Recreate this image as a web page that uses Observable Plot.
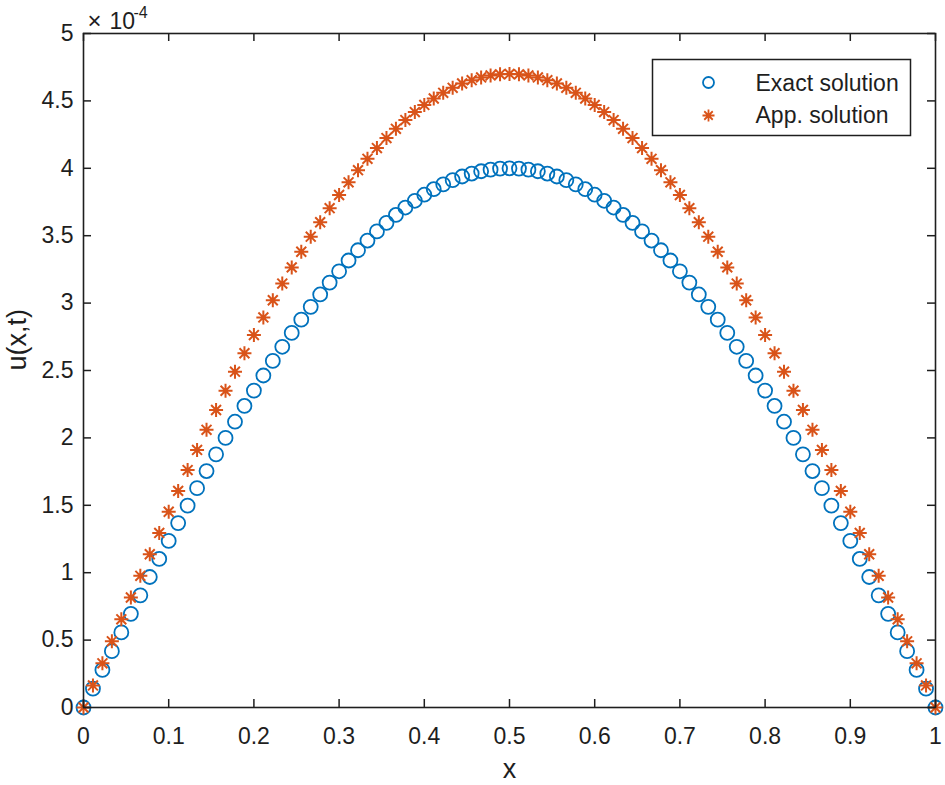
<!DOCTYPE html>
<html>
<head>
<meta charset="utf-8">
<script src="https://cdn.jsdelivr.net/npm/d3@7"></script>
<script src="https://cdn.jsdelivr.net/npm/@observablehq/plot@0.6"></script>
<style>
  html, body { margin: 0; padding: 0; background: #fff; }
  #chart svg { display: block; }
</style>
</head>
<body>
<div id="chart"></div>
<script>
// x sample points
const xs = [0, 0.0111, 0.0222, 0.0333, 0.0444, 0.0556, 0.0667, 0.0778, 0.0889, 0.1, 0.1111, 0.1222, 0.1333, 0.1444, 0.1556, 0.1667, 0.1778, 0.1889, 0.2, 0.2111, 0.2222, 0.2333, 0.2444, 0.2556, 0.2667, 0.2778, 0.2889, 0.3, 0.3111, 0.3222, 0.3333, 0.3444, 0.3556, 0.3667, 0.3778, 0.3889, 0.4, 0.4111, 0.4222, 0.4333, 0.4444, 0.4556, 0.4667, 0.4778, 0.4889, 0.5, 0.5111, 0.5222, 0.5333, 0.5444, 0.5556, 0.5667, 0.5778, 0.5889, 0.6, 0.6111, 0.6222, 0.6333, 0.6444, 0.6556, 0.6667, 0.6778, 0.6889, 0.7, 0.7111, 0.7222, 0.7333, 0.7444, 0.7556, 0.7667, 0.7778, 0.7889, 0.8, 0.8111, 0.8222, 0.8333, 0.8444, 0.8556, 0.8667, 0.8778, 0.8889, 0.9, 0.9111, 0.9222, 0.9333, 0.9444, 0.9556, 0.9667, 0.9778, 0.9889, 1];

// Exact solution (units of 1e-4)
const exactValues = [0, 0.140, 0.279, 0.418, 0.557, 0.695, 0.832, 0.968, 1.102, 1.236, 1.368, 1.498, 1.627, 1.754, 1.878, 2.000, 2.120, 2.237, 2.351, 2.463, 2.571, 2.676, 2.779, 2.877, 2.972, 3.064, 3.152, 3.236, 3.316, 3.392, 3.464, 3.532, 3.595, 3.654, 3.709, 3.759, 3.804, 3.845, 3.881, 3.912, 3.939, 3.961, 3.978, 3.990, 3.998, 4.000,
  3.998, 3.990, 3.978, 3.961, 3.939, 3.912, 3.881, 3.845, 3.804, 3.759, 3.709, 3.654, 3.595, 3.532, 3.464, 3.392, 3.316, 3.236, 3.152, 3.064, 2.972, 2.877, 2.779, 2.676, 2.571, 2.463, 2.351, 2.237, 2.120, 2.000, 1.878, 1.754, 1.627, 1.498, 1.368, 1.236, 1.102, 0.968, 0.832, 0.695, 0.557, 0.418, 0.279, 0.140, 0];

// Approximate solution (units of 1e-4)
const appValues = [0, 0.164, 0.328, 0.491, 0.654, 0.816, 0.977, 1.137, 1.295, 1.452, 1.607, 1.761, 1.911, 2.060, 2.207, 2.350, 2.491, 2.628, 2.763, 2.894, 3.021, 3.145, 3.265, 3.381, 3.493, 3.600, 3.704, 3.802, 3.896, 3.986, 4.070, 4.150, 4.224, 4.293, 4.358, 4.417, 4.470, 4.518, 4.560, 4.597, 4.629, 4.654, 4.674, 4.689, 4.697, 4.700,
  4.697, 4.689, 4.674, 4.654, 4.629, 4.597, 4.560, 4.518, 4.470, 4.417, 4.358, 4.293, 4.224, 4.150, 4.070, 3.986, 3.896, 3.802, 3.704, 3.600, 3.493, 3.381, 3.265, 3.145, 3.021, 2.894, 2.763, 2.628, 2.491, 2.350, 2.207, 2.060, 1.911, 1.761, 1.607, 1.452, 1.295, 1.137, 0.977, 0.816, 0.654, 0.491, 0.328, 0.164, 0];

const seriesNames = ["Exact solution", "App. solution"];

const xTicks = [0, 0.1, 0.2, 0.3, 0.4, 0.5, 0.6, 0.7, 0.8, 0.9, 1];
const xTickLabels = ["0", "0.1", "0.2", "0.3", "0.4", "0.5", "0.6", "0.7", "0.8", "0.9", "1"];
const yTicks = [0, 0.5, 1, 1.5, 2, 2.5, 3, 3.5, 4, 4.5, 5];
const yTickLabels = ["0", "0.5", "1", "1.5", "2", "2.5", "3", "3.5", "4", "4.5", "5"];
const xLabel = "x";
const yLabel = "u(x,t)";
const exponentTimes = "\u00d7";
const exponentBase = "10";
const exponentPower = "-4";

// ---- build tables
const exactData = xs.map((x, i) => ({x, y: exactValues[i]}));
const appData = xs.map((x, i) => ({x, y: appValues[i]}));

const blue = "#0072BD";
const orange = "#D95319";
const ink = "#1e1e1e";
const font = "'Liberation Sans', Arial, Helvetica, sans-serif";

const W = 945, H = 785;
const mL = 83, mR = 10, mT = 33, mB = 78;
const innerW = W - mL - mR, innerH = H - mT - mB;
const tickLen = 8;

// MATLAB-like asterisk marker (plus + x)
const asterisk = {
  draw(ctx, size) {
    const r = Math.sqrt(size / Math.PI);
    const d = r * Math.SQRT1_2;
    ctx.moveTo(-r, 0); ctx.lineTo(r, 0);
    ctx.moveTo(0, -r); ctx.lineTo(0, r);
    ctx.moveTo(-d, -d); ctx.lineTo(d, d);
    ctx.moveTo(-d, d); ctx.lineTo(d, -d);
  }
};

const chart = Plot.plot({
  width: W,
  height: H,
  marginLeft: mL,
  marginRight: mR,
  marginTop: mT,
  marginBottom: mB,
  style: {fontFamily: font, background: "#fff", color: ink},
  x: {domain: [0, 1], axis: null},
  y: {domain: [0, 5], axis: null},
  marks: [
    // data
    Plot.dot(exactData, {x: "x", y: "y", r: 7, stroke: blue, strokeWidth: 1.8, fill: "none"}),
    Plot.dot(appData, {x: "x", y: "y", r: 7, symbol: asterisk, stroke: orange, strokeWidth: 2, fill: "none"}),
    // box
    Plot.frame({stroke: ink, strokeWidth: 1.6}),
    // inward ticks on all four sides
    Plot.ruleX(xTicks, {x: d => d, insetTop: innerH - tickLen, stroke: ink, strokeWidth: 1.5}),
    Plot.ruleX(xTicks, {x: d => d, insetBottom: innerH - tickLen, stroke: ink, strokeWidth: 1.5}),
    Plot.ruleY(yTicks, {y: d => d, insetRight: innerW - tickLen, stroke: ink, strokeWidth: 1.5}),
    Plot.ruleY(yTicks, {y: d => d, insetLeft: innerW - tickLen, stroke: ink, strokeWidth: 1.5}),
    // tick labels
    Plot.text(xTicks, {x: d => d, text: (d, i) => xTickLabels[i], frameAnchor: "bottom", lineAnchor: "top", dy: 20, fontSize: 23, fill: ink}),
    Plot.text(yTicks, {y: d => d, text: (d, i) => yTickLabels[i], frameAnchor: "left", textAnchor: "end", lineAnchor: "middle", dx: -10, fontSize: 23, fill: ink}),
    // axis labels
    Plot.text([xLabel], {frameAnchor: "bottom", lineAnchor: "bottom", dy: 70, fontSize: 27, fill: ink}),
    Plot.text([yLabel], {frameAnchor: "left", rotate: -90, dx: -66, fontSize: 27, fill: ink}),
    // exponent
    Plot.text([exponentTimes], {frameAnchor: "top-left", textAnchor: "start", lineAnchor: "bottom", dx: 4, dy: -5, fontSize: 24, fill: ink}),
    Plot.text([exponentBase], {frameAnchor: "top-left", textAnchor: "start", lineAnchor: "bottom", dx: 26, dy: -5, fontSize: 23, fill: ink}),
    Plot.text([exponentPower], {frameAnchor: "top-left", textAnchor: "start", lineAnchor: "bottom", dx: 50, dy: -16, fontSize: 16, fill: ink}),
    // legend
    Plot.frame({insetLeft: 569, insetRight: 25, insetTop: 26, insetBottom: 572, stroke: ink, strokeWidth: 1.5, fill: "#fff"}),
    Plot.dot([0], {frameAnchor: "top-left", dx: 625, dy: 49, r: 5.5, stroke: blue, strokeWidth: 1.8, fill: "none"}),
    Plot.dot([0], {frameAnchor: "top-left", dx: 625, dy: 82, r: 6, symbol: asterisk, stroke: orange, strokeWidth: 1.8, fill: "none"}),
    Plot.text([seriesNames[0]], {frameAnchor: "top-left", textAnchor: "start", lineAnchor: "bottom", dx: 672, dy: 57, fontSize: 23, fill: ink}),
    Plot.text([seriesNames[1]], {frameAnchor: "top-left", textAnchor: "start", lineAnchor: "bottom", dx: 672, dy: 89, fontSize: 23, fill: ink})
  ]
});

document.getElementById("chart").appendChild(chart);
</script>
</body>
</html>
